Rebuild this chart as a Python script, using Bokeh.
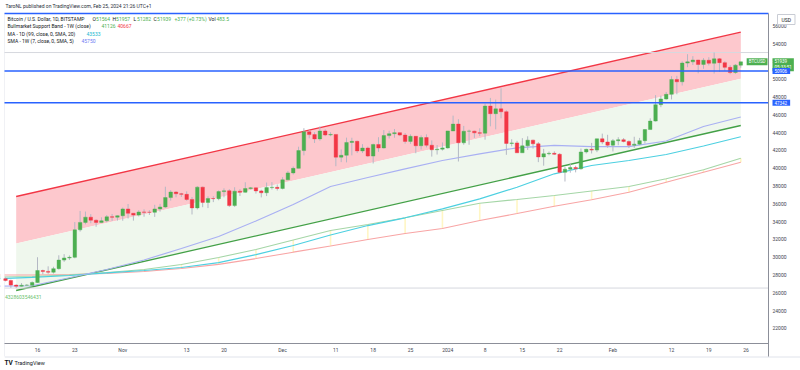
import numpy as np
import pandas as pd
from bokeh.plotting import figure
from bokeh.models import Range1d, FixedTicker, Label, LinearAxis, ColumnDataSource, AllLabels
from bokeh.embed import file_html
from bokeh.resources import INLINE

# ---------------- data ----------------
ORIGIN = pd.Timestamp("2023-10-16")
candle_start, candle_end = "2023-10-10", "2024-02-25"

opens = [27590, 27390, 26870, 26750, 26860, 26860, 27160, 28510, 28410, 28320, 28720, 29680, 29920, 29990, 33080, 33910, 34500, 34160, 33910, 34090, 34540, 34500,
         34660, 35420, 34940, 34730, 35080, 35050, 35040, 35420, 35640, 36700, 37320, 37130, 37060, 36490, 35540, 37870, 36160, 36590, 36580, 37370, 37460, 35800, 37420, 37290, 37720, 37790, 37450, 37240, 37820, 37850,
         37720, 38690, 39470, 39980, 41980, 44080, 43770, 43290, 44170, 43730, 43790, 41240, 41450, 42890, 43020, 41940, 42260, 41360, 42660, 42270, 43660, 43870, 43990, 43720, 43010, 43580, 42520, 43440, 42580, 42070, 42140,
         42280, 44180, 44950, 42850, 44150, 44160, 43970, 43930, 46970, 46120, 46660, 46340, 42780, 42840, 41730, 42510, 43150, 42740, 41260, 41620, 41670, 41560, 39530, 39890, 40080, 39930, 41820, 42120, 42030, 43300, 42940,
         42580, 43080, 43190, 43000, 42580, 42700, 43090, 44340, 45290, 47130, 47770, 48290, 49960, 49700, 51800, 51940, 52140, 51650, 52120, 51780, 52280, 51850, 51320, 50740, 51564]
highs = [27730, 27480, 26940, 27100, 26980, 27290, 30000, 28610, 28980, 28930, 30220, 30350, 30200, 33950, 35200, 35130, 34840, 34250, 34480, 34740, 34860, 34710,
         35580, 35980, 34940, 35280, 35380, 35280, 35890, 35990, 37920, 37530, 37420, 37230, 37400, 36760, 37980, 37930, 36840, 36850, 37510, 37740, 37650, 37860, 37650, 38420, 37890, 37830, 37580, 38390, 38430, 38170,
         38990, 39690, 40190, 42410, 44490, 44280, 44040, 44700, 44360, 44040, 43800, 42100, 43430, 43420, 43090, 42700, 42420, 42760, 43480, 44280, 44210, 44400, 44020, 43950, 43800, 43590, 43680, 43800, 43120, 42600, 42890,
         44190, 45900, 45500, 44750, 44330, 44210, 44480, 47250, 47890, 47700, 48970, 46500, 43250, 43070, 43370, 43580, 43200, 42930, 42170, 41870, 41890, 41680, 40130, 40530, 40280, 42210, 42190, 42840, 43310, 43880, 43750,
         43280, 43480, 43380, 43120, 43530, 43400, 44380, 45600, 48200, 48150, 48560, 50330, 50370, 52000, 52800, 52580, 52180, 52360, 52460, 52985, 52370, 52010, 51560, 51690, 51957]
lows = [27290, 26560, 26540, 26690, 26810, 26800, 27120, 28090, 28140, 28170, 28610, 29480, 29700, 29880, 32880, 33700, 33820, 33420, 33870, 33940, 34080, 34110,
        34100, 34350, 34110, 34580, 34550, 34750, 34530, 35120, 35540, 36360, 36730, 36770, 36350, 34800, 35370, 35620, 35520, 36190, 36400, 36730, 35660, 35660, 36880, 37260, 37610, 37150, 36720, 36870, 37600, 37490,
        37620, 38660, 39290, 39980, 41440, 43350, 42830, 43080, 43590, 43590, 40220, 40680, 40650, 41440, 41700, 41700, 41250, 40530, 41830, 42210, 43330, 43420, 43600, 42750, 42730, 41680, 42100, 42330, 41300, 41530, 41980,
        42190, 44180, 40750, 42630, 42630, 43400, 43600, 43200, 44700, 44360, 45600, 41500, 42450, 41720, 41720, 42050, 42200, 40680, 40280, 41450, 41500, 39440, 38500, 39490, 39530, 39830, 41650, 41650, 41800, 42690, 42290,
        41880, 42580, 42900, 42260, 42280, 42580, 42780, 44330, 45240, 46850, 47700, 47720, 48300, 49280, 51340, 51580, 50650, 51160, 51540, 50620, 50800, 50920, 50550, 50590, 51282]
closes = [27390, 26870, 26750, 26860, 26860, 27160, 28510, 28410, 28320, 28720, 29680, 29920, 29990, 33080, 33910, 34500, 34160, 33910, 34090, 34540, 34500, 34660,
          35420, 34940, 34730, 35080, 35050, 35040, 35420, 35640, 36700, 37320, 37130, 37060, 36490, 35540, 37870, 36160, 36590, 36580, 37370, 37460, 35800, 37420, 37290, 37720, 37790, 37450, 37240, 37820, 37850, 37720,
          38690, 39470, 39980, 41980, 44080, 43770, 43290, 44170, 43730, 43790, 41240, 41450, 42890, 43020, 41940, 42260, 41360, 42660, 42270, 43660, 43870, 43990, 43720, 43010, 43580, 42520, 43440, 42580, 42070, 42140, 42280,
          44180, 44950, 42850, 44150, 44160, 43970, 43930, 46970, 46120, 46660, 46340, 42780, 42840, 41730, 42510, 43150, 42740, 41260, 41620, 41670, 41560, 39530, 39890, 40080, 39930, 41820, 42120, 42030, 43300, 42940, 42580,
          43080, 43190, 43000, 42580, 42700, 43090, 44340, 45290, 47130, 47770, 48290, 49960, 49700, 51800, 51940, 52140, 51650, 52120, 51780, 52280, 51850, 51320, 50740, 51570, 51939]

week_dates = ["2023-10-08", "2023-10-15", "2023-10-22", "2023-10-29", "2023-11-05", "2023-11-12", "2023-11-19",
              "2023-11-26", "2023-12-03", "2023-12-10", "2023-12-17", "2023-12-24", "2023-12-31", "2024-01-07",
              "2024-01-14", "2024-01-21", "2024-01-28", "2024-02-04", "2024-02-11", "2024-02-18", "2024-02-25"]
sma_1w = [26750, 26800, 27700, 28620, 29690, 30980, 32330, 34070, 35920, 37940, 38950, 39930, 40860, 41610,
          42290, 42550, 42430, 42430, 43050, 44680, 45750]
ma_99 = [27570, 27730, 27950, 28240, 28510, 28850, 29400, 30300, 31320, 32500, 33560, 34430, 35440, 36560,
         37860, 39370, 40300, 40860, 41540, 42490, 43533]
band_sma20 = [27780, 27840, 28010, 28290, 28620, 29180, 29970, 30870, 31940, 33000, 33680, 34430, 35250, 36070,
              36490, 36930, 37440, 37940, 38810, 39820, 41126]
band_ema21 = [28010, 28010, 28060, 28170, 28400, 28730, 29200, 29850, 30570, 31260, 31990, 32660, 33230, 34130,
              34910, 35730, 36450, 37300, 38430, 39550, 40667]

channel_dates = ["2023-10-12", "2024-02-25"]
channel_top = [36821, 55269]
channel_bottom = [26266, 44793]

blue_levels = [57370, 50906, 47342]
range_levels = [52985, 26540]
last_price = 51939

tick_dates = ["2023-10-16", "2023-10-23", "2023-11-01", "2023-11-13", "2023-11-20", "2023-12-01", "2023-12-11",
              "2023-12-18", "2023-12-25", "2024-01-01", "2024-01-08", "2024-01-15", "2024-01-22", "2024-02-01",
              "2024-02-12", "2024-02-19", "2024-02-26"]
tick_labels = ["16", "23", "Nov", "13", "20", "Dec", "11", "18", "25", "2024", "8", "15", "22", "Feb", "12", "19", "26"]
price_ticks = list(range(22000, 56001, 2000))

# ---------------- layout (pixel geometry of the canvas) ----------------
W, H = 800, 370
PX_DAY, X_ORIGIN_PX = 5.328, 37.0        # Oct 16 sits at pixel 37
PX_USD, Y_REF_PX, Y_REF = 0.008906, 43.0, 54000


def xd(px):
    return (px - X_ORIGIN_PX) / PX_DAY


def yd(py):
    return Y_REF - (py - Y_REF_PX) / PX_USD


CH_L, CH_R, CH_T, CH_B, AX_B = xd(4), xd(768), yd(13), yd(343), yd(356)

GREEN, RED, BLUE = "#4caf50", "#f23645", "#2962ff"
FONT = "Roboto"


def days(d):
    return (pd.to_datetime(d) - ORIGIN).days


p = figure(width=W, height=H, output_backend="svg", toolbar_location=None, title=None,
           x_range=Range1d(xd(0), xd(W)), y_range=Range1d(yd(H), yd(0)),
           x_axis_location=None, y_axis_location=None, min_border=0)
p.min_border_left = p.min_border_right = p.min_border_top = p.min_border_bottom = 0
p.grid.visible = False
p.outline_line_color = None
p.background_fill_color = "white"
p.border_fill_color = "white"

# axes drawn at fixed places inside the canvas
xaxis = LinearAxis(fixed_location=CH_B, bounds=(CH_L, CH_R))
yaxis = LinearAxis(fixed_location=CH_R, bounds=(AX_B, CH_T))
for ax in (xaxis, yaxis):
    ax.axis_line_color = "#8c8f99"
    ax.axis_line_width = 1
    ax.major_tick_line_color = None
    ax.minor_tick_line_color = None
    ax.major_tick_out = 0
    ax.major_tick_in = 0
    ax.minor_tick_out = 0
    ax.major_label_text_font = FONT
    ax.major_label_text_font_size = "5px"
    ax.major_label_text_color = "#434651"
    ax.major_label_policy = AllLabels()
tx = [int(v) for v in days(tick_dates)]
xaxis.ticker = FixedTicker(ticks=tx)
xaxis.major_label_overrides = {t: l for t, l in zip(tx, tick_labels)}
xaxis.major_label_standoff = 3
yaxis.ticker = FixedTicker(ticks=price_ticks)
yaxis.major_label_standoff = 4
p.add_layout(xaxis, "below")
p.add_layout(yaxis, "right")

# chart borders
p.segment(x0=[CH_L, CH_L], y0=[AX_B, yd(356.5)], x1=[CH_L, xd(W)], y1=[CH_T, yd(356.5)],
          line_color="#e0e3eb", line_width=1)

# channel
cx = list(days(channel_dates))
cmid = [(a + b) / 2 for a, b in zip(channel_top, channel_bottom)]
p.patch([cx[0], cx[1], cx[1], cx[0]], [channel_top[0], channel_top[1], cmid[1], cmid[0]],
        fill_color="#fdc8cd", line_color=None)
p.patch([cx[0], cx[1], cx[1], cx[0]], [cmid[0], cmid[1], channel_bottom[1], channel_bottom[0]],
        fill_color="#eff7ed", line_color=None)
p.line(cx, channel_top, line_color="#f23645", line_width=1.3)
p.line(cx, channel_bottom, line_color="#43a047", line_width=1.3)

# weekly band fills (yellow ticks)
wx = np.array(days(week_dates), dtype=float)
g = np.array(band_sma20, dtype=float)
r = np.array(band_ema21, dtype=float)
m = g > r
p.segment(x0=wx[m], y0=g[m], x1=wx[m], y1=r[m], line_color="#fff6c4", line_width=1.6)

p.line(wx, band_ema21, line_color="#f8a5a5", line_width=1.1)
p.line(wx, band_sma20, line_color="#a5d6a7", line_width=1.1)
p.line(wx, ma_99, line_color="#4dd0e1", line_width=1.2)
p.line(wx, sma_1w, line_color="#a9b0f3", line_width=1.2)

# hide line tails left of the chart area
p.quad(left=xd(0), right=CH_L, bottom=yd(H), top=yd(0), fill_color="white", line_color=None)

# horizontal level lines (end at price axis)
n_r = len(range_levels)
p.segment(x0=[CH_L] * n_r, y0=range_levels, x1=[CH_R] * n_r, y1=range_levels, line_color="#d6d8de", line_width=1)

# candles
dates = pd.date_range(candle_start, candle_end, freq="D")
xc = (dates - ORIGIN).days.values.astype(float)
o = np.array(opens, dtype=float); c = np.array(closes, dtype=float)
up = c >= o
src = ColumnDataSource(dict(x=xc, h=highs, l=lows, top=np.maximum(o, c), bottom=np.minimum(o, c),
                            color=np.where(up, GREEN, RED)))
p.segment(x0="x", y0="l", x1="x", y1="h", source=src, line_color="#b4b8c4", line_width=1)
p.vbar(x="x", width=0.66, top="top", bottom="bottom", source=src, fill_color="color", line_color="color",
       line_width=0.4)

n_b = len(blue_levels)
p.segment(x0=[CH_L] * n_b, y0=blue_levels, x1=[CH_R] * n_b, y1=blue_levels, line_color=BLUE, line_width=1.4)


# ---------------- texts ----------------
def lab(text, x, y, color="#131722", size="5px", xu="screen", yu="screen", align="left", **kw):
    l = Label(text=text, x=x, y=y, x_units=xu, y_units=yu, text_color=color, text_font_size=size,
              text_font=FONT, text_align=align, text_baseline="middle", **kw)
    p.add_layout(l)
    return l


def sy(py):
    return H - py


lab("TaroNL published on TradingView.com, Feb 25, 2024 21:26 UTC+1", 5, sy(5.5), "#2a2e39")

y1, y2, y3, y4 = sy(18), sy(25.5), sy(33), sy(40.5)
lab("Bitcoin / U.S. Dollar, 1D, BITSTAMP", 7, y1)
for letter, val, x in [("O", "51564", 92), ("H", "51957", 112), ("L", "51282", 133), ("C", "51939", 153)]:
    lab(letter, x, y1)
    lab(val, x + 3.6, y1, GREEN)
lab("+377 (+0.73%)", 174, y1, GREEN)
lab("Vol", 208, y1)
lab("483.5", 216, y1, GREEN)

lab("Bullmarket Support Band - 1W (close)", 7, y2)
lab("41126", 101, y2, GREEN)
lab("40667", 117, y2, RED)
lab("MA - 1D (99, close, 0, SMA, 20)", 7, y3)
lab("43533", 86, y3, "#22b8cf")
lab("SMA - 1W (7, close, 0, SMA, 5)", 7, y4)
lab("45750", 81, y4, "#6f7cf2")

lab("4328603546431", 4.5, sy(296.5), "#6cbf6f")

# symbol label at last price
lab("BTCUSD", CH_R, last_price, "white", size="4.5px", xu="data", yu="data", align="right", x_offset=-1,
    background_fill_color=GREEN, padding=dict(left=2, right=2, top=1, bottom=1))

# price axis boxes
lab("USD", 777, sy(19), "#131722", size="5px", background_fill_color="#ffffff",
    border_line_color="#c9ccd4", border_line_width=1, padding=dict(left=4, right=4, top=2, bottom=2),
    level="overlay")
lab("51939\n05:33:51", CH_R, last_price, "white", size="4.5px", xu="data", yu="data", x_offset=4,
    y_offset=-3, background_fill_color=GREEN, padding=dict(left=2, right=2, top=1, bottom=1))
for lv in blue_levels[1:]:
    lab(str(lv), CH_R, lv, "white", size="4.5px", xu="data", yu="data", x_offset=4,
        background_fill_color=BLUE, padding=dict(left=2, right=3, top=1, bottom=1))

# logo
lab("TV", 4, sy(362), "#131722", size="6.5px", text_font_style="bold")
lab("TradingView", 14, sy(362), "#131722", size="5.5px")

open("out.html", "w").write(file_html(p, INLINE))
